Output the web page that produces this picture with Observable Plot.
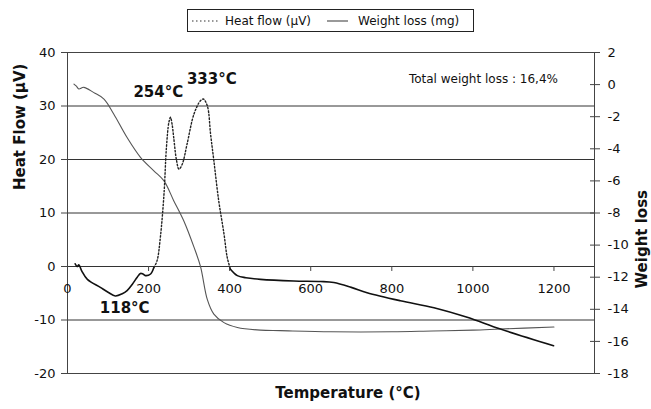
<!DOCTYPE html>
<html>
<head>
<meta charset="utf-8">
<script src="https://cdn.jsdelivr.net/npm/d3@7"></script>
<script src="https://cdn.jsdelivr.net/npm/@observablehq/plot@0.6"></script>
<style>
  body { margin: 0; background: #fff; font-family: "DejaVu Sans", sans-serif; }
  #wrap { width: 651px; height: 409px; position: relative; }
  #legend { position: relative; width: 651px; height: 40px; }
  #legend .box { position: absolute; left: 187px; top: 9px; width: 287px; height: 23px; box-sizing: border-box; border: 1.5px solid #222; }
</style>
</head>
<body>
<div id="wrap">
  <div id="legend">
    <div class="box">
      <svg width="287" height="23" style="position:absolute;left:-1.5px;top:-1.5px" font-family="DejaVu Sans" font-size="12">
        <line x1="5" x2="33" y1="12" y2="12" stroke="#333" stroke-width="1.2" stroke-dasharray="1.5,2.5"></line>
        <text x="38" y="16" fill="#111">Heat flow (µV)</text>
        <line x1="140" x2="161" y1="12" y2="12" stroke="#555" stroke-width="1.2"></line>
        <text x="171" y="16" fill="#111">Weight loss (mg)</text>
      </svg>
    </div>
  </div>
  <div id="chart"></div>
</div>
<script>
// Temperature (°C) and heat flow (µV)
const heatT = [19, 24, 28, 35, 49, 81, 100, 118, 135, 147, 160, 172, 180, 186, 192, 205, 213,
  221, 229, 238, 244, 250, 254, 258, 262, 269, 275, 283, 295, 312, 328, 335, 345, 353, 361, 373, 386, 394,
  402, 419, 440, 476, 558, 624, 657, 700, 739, 821, 904, 986, 1068, 1199];
const heatH = [0.5, 0.0, 0.3, -0.8, -2.4, -3.9, -4.8, -5.5, -5.1, -4.5, -3.3, -2.0, -1.3, -1.4, -1.7, -1.4, -0.2,
  1.1, 5.4, 13.5, 22.2, 26.9, 27.9, 26.6, 24.1, 19.8, 18.2, 19.1, 22.9, 28.5, 31.0, 31.3, 30.0, 24.7, 19.8, 12.3, 6.1, 1.7,
  -0.5, -1.7, -2.1, -2.4, -2.7, -2.8, -3.0, -3.9, -4.9, -6.4, -7.7, -9.5, -11.7, -14.8];

// Temperature (°C) and weight loss (mg)
const weightT = [16, 22, 28, 40, 65, 90, 114, 147, 180, 213, 238, 262, 287, 312, 328, 345, 361, 386, 419, 476, 525, 650, 800, 900, 1000, 1068, 1200];
const weightW = [0.03, -0.1, -0.27, -0.17, -0.5, -0.9, -1.83, -3.3, -4.53, -5.37, -6.0, -7.23, -8.5, -10.13, -11.33, -13.4, -14.3, -14.83, -15.13, -15.3, -15.33, -15.4, -15.4, -15.35, -15.3, -15.23, -15.1];

// Axis ticks
const xTicks = [0, 200, 400, 600, 800, 1000, 1200];
const heatTicks = [-20, -10, 0, 10, 20, 30, 40];
const weightTicks = [-18, -16, -14, -12, -10, -8, -6, -4, -2, 0, 2];

// Annotations
const annoText = ["254°C", "333°C", "118°C"];
const annoT = [224, 356, 141];
const annoH = [32.5, 35.1, -7.7];
const noteText = ["Total weight loss : 16,4%"];
const noteT = [1026];
const noteH = [35.1];

// right axis (weight) mapped onto left axis (heat): h = 3w + 34
const w2h = w => 3 * w + 34;
const h2w = h => (h - 34) / 3;

const heat = heatT.map((t, i) => ({t, h: heatH[i]}));
const weight = weightT.map((t, i) => ({t, h: w2h(weightW[i])}));
const heatA = heat.filter(d => d.t <= 213);
const heatB = heat.filter(d => d.t >= 213 && d.t <= 402);
const heatC = heat.filter(d => d.t >= 402);
const anno = annoText.map((s, i) => ({s, t: annoT[i], h: annoH[i]}));
const note = noteText.map((s, i) => ({s, t: noteT[i], h: noteH[i]}));

const chart = Plot.plot({
  width: 651,
  height: 369,
  marginTop: 12,
  marginBottom: 36,
  marginLeft: 67,
  marginRight: 57,
  style: {fontFamily: "DejaVu Sans", fontSize: "13px", color: "#111", background: "#fff"},
  x: {domain: [0, 1300]},
  y: {domain: [-20, 40]},
  marks: [
    Plot.ruleY(heatTicks, {stroke: "#333", strokeWidth: 1}),
    Plot.frame({stroke: "#444", strokeWidth: 1}),
    Plot.axisY({anchor: "left", ticks: heatTicks, tickSize: 6, tickPadding: 6, tickFormat: d => String(d), fontSize: 13, label: null, stroke: "#444"}),
    Plot.axisY({anchor: "right", ticks: weightTicks.map(w2h), tickSize: 10, dx: -5, tickPadding: 8,
      tickFormat: h => String(Math.round(h2w(h))), fontSize: 13, label: null, stroke: "#444"}),
    Plot.axisX({ticks: [], label: null, tickSize: 0}),
    Plot.ruleX(xTicks, {x: d => d, y1: 0, y2: -0.93, stroke: "#444"}),
    Plot.text(xTicks, {x: d => d, y: 0, text: d => String(d), dy: 22, fontSize: 13, fill: "#111"}),
    Plot.line(weight, {x: "t", y: "h", stroke: "#555", strokeWidth: 1.1, curve: "catmull-rom"}),
    Plot.line(heatA, {x: "t", y: "h", stroke: "#111", strokeWidth: 1.6, curve: "catmull-rom"}),
    Plot.line(heatB, {x: "t", y: "h", stroke: "#222", strokeWidth: 1.4, strokeDasharray: "1.5,2", curve: "catmull-rom"}),
    Plot.line(heatC, {x: "t", y: "h", stroke: "#111", strokeWidth: 1.6, curve: "catmull-rom"}),
    Plot.text(anno, {x: "t", y: "h", text: "s", fontSize: 15, fontWeight: "bold", fill: "#111"}),
    Plot.text(note, {x: "t", y: "h", text: "s", fontSize: 12, fill: "#111"}),
    Plot.text(["Heat Flow (µV)"], {frameAnchor: "left", rotate: -90, dx: -47, dy: -23, fontSize: 15, fontWeight: "bold", fill: "#111"}),
    Plot.text(["Weight loss"], {frameAnchor: "right", rotate: -90, dx: 48, dy: -23, fontSize: 15, fontWeight: "bold", fill: "#111"}),
    Plot.text(["Temperature (°C)"], {frameAnchor: "bottom", dx: 17, dy: 24, fontSize: 15, fontWeight: "bold", fill: "#111"})
  ]
});
document.getElementById("chart").appendChild(chart);
</script>
</body>
</html>
